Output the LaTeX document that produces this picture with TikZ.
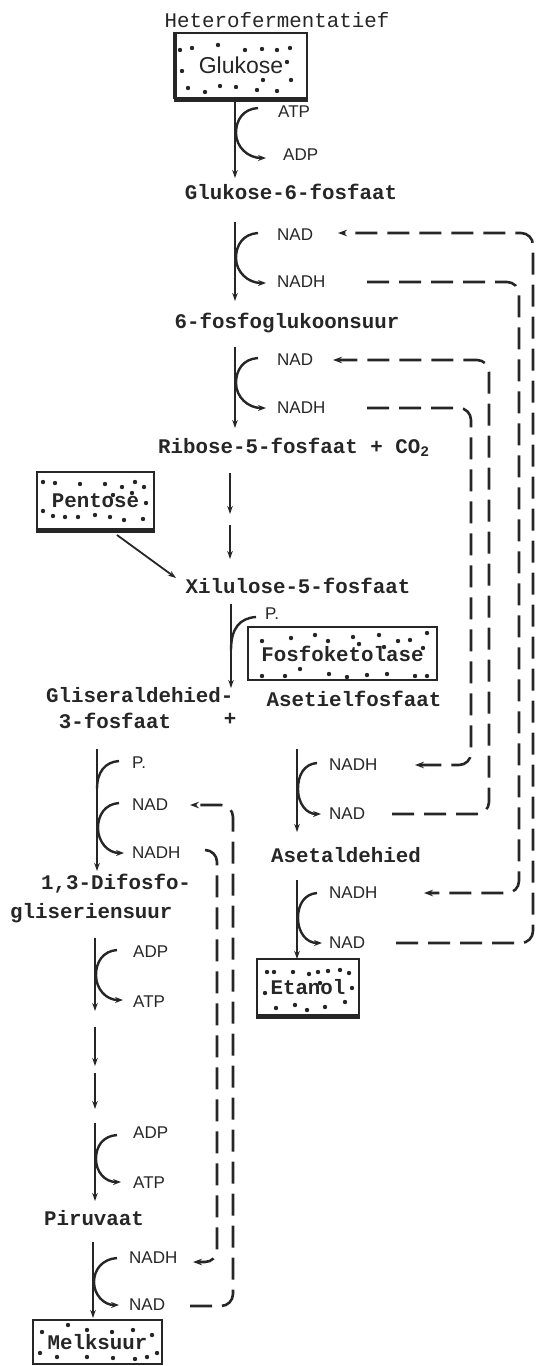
\documentclass[tikz,border=0pt]{standalone}
\usepackage{fontspec}
\usetikzlibrary{arrows.meta,calc}
\newfontfamily\twfont{Liberation Mono}
\newfontfamily\sansfont{Liberation Sans}
\definecolor{ink}{gray}{0.15}
\begin{document}
\begin{tikzpicture}[x=1pt,y=-1pt,
  lbl/.style={font=\twfont\bfseries\fontsize{20.8}{24}\selectfont, inner sep=0pt, text=ink},
  lbllight/.style={font=\twfont\fontsize{20.8}{24}\selectfont, inner sep=0pt, text=ink},
  sm/.style={font=\sansfont\fontsize{17}{19}\selectfont, inner sep=0pt, anchor=west, text=ink},
  arr/.style={draw=ink, line width=1.8pt, -{Stealth[length=8pt,width=5.5pt]}},
  cur/.style={draw=ink, line width=2.4pt, -{Stealth[length=8pt,width=6pt]}},
  brn/.style={draw=ink, line width=2.4pt},
  dsh/.style={draw=ink, line width=2.6pt, dash pattern=on 22pt off 10pt, rounded corners=12pt, -{Stealth[length=9pt,width=6.5pt]}},
  bx/.style={draw=ink, line width=2.2pt, inner sep=0pt, text=ink},
  shad/.style={draw=ink, line width=3.6pt},
  dotr/.style={fill=ink}
]
\useasboundingbox (0,0) rectangle (538,1366);

% ---------------- top ----------------
\node[lbllight] (het) at (277,20) {Heterofermentatief};
\node[bx, minimum width=132pt, minimum height=65pt, font=\sansfont\fontsize{23}{25}\selectfont] (glu) at (241,65.5) {Glukose};
\draw[shad] ([yshift=-1pt]glu.south west) -- ([yshift=-1pt]glu.south east);
\draw[shad] ([xshift=1pt]glu.north west) -- ([xshift=1pt]glu.south west);
\foreach \p in {(180,50),(192,48),(218,45),(245,50),(262,49),(277,50),(290,48),(182,71),(287,62),(291,80),(188,88),(205,92),(220,86),(236,87),(257,90),(263,80),(277,91)}
  \fill[dotr] \p circle (2.2pt);

\node[sm] (atp1) at (278,112) {ATP};
\node[sm] (adp1) at (283,155) {ADP};
\node[lbl] (g6p) at (291,192) {Glukose-6-fosfaat};
\coordinate (a1s) at (235,98); \coordinate (a1e) at (235,178);
\draw[arr] (a1s) -- (a1e);
\draw[cur] (258,108) .. controls (243,109) and (236,120) .. (236,133) .. controls (236,147) and (248,158) .. (266,158);

% ---------------- step 2 ----------------
\node[sm] (nad2) at (277,235) {NAD};
\node[sm] (nadh2) at (277,282) {NADH};
\node[lbl] (fgs) at (287,323) {6-fosfoglukoonsuur};
\coordinate (a2s) at (235,222); \coordinate (a2e) at (235,301);
\draw[arr] (a2s) -- (a2e);
\draw[cur] (258,233) .. controls (243,234) and (236,245) .. (236,258) .. controls (236,272) and (248,283) .. (266,283);

% ---------------- step 3 ----------------
\node[sm] (nad3) at (277,360) {NAD};
\node[sm] (nadh3) at (277,408) {NADH};
\node[lbl, anchor=west] (rib) at (158,447) {Ribose-5-fosfaat + CO\textsubscript{2}};
\coordinate (a3s) at (235,347); \coordinate (a3e) at (235,428);
\draw[arr] (a3s) -- (a3e);
\draw[cur] (258,358) .. controls (243,359) and (236,370) .. (236,383) .. controls (236,397) and (248,408) .. (266,408);

% ---------------- pentose / xilulose ----------------
\node[bx, minimum width=117pt, minimum height=57pt, font=\twfont\bfseries\fontsize{20.8}{24}\selectfont] (pen) at (95.5,500.5) {Pentose};
\draw[shad] ([yshift=-1.2pt]pen.south west) -- ([yshift=-1.2pt]pen.south east);
\foreach \p in {(43,482),(55,483),(80,484),(105,484),(122,487),(135,482),(144,487),(113,495),(132,493),(43,511),(53,516),(65,517),(78,517),(95,515),(110,517),(124,520),(143,519),(146,503)}
  \fill[dotr] \p circle (2.2pt);
\node[lbl] (xil) at (298,586) {Xilulose-5-fosfaat};
\coordinate (r1s) at (230,473); \coordinate (r1e) at (230,514);
\coordinate (r2s) at (230,525); \coordinate (r2e) at (230,559);
\draw[arr] (r1s) -- (r1e);
\draw[arr] (r2s) -- (r2e);
\coordinate (ps) at (117,535); \coordinate (pe) at (176,578);
\draw[arr] (ps) -- (pe);

% ---------------- fosfoketolase ----------------
\coordinate (x1s) at (231,604); \coordinate (x1e) at (231,688);
\draw[arr] (x1s) -- (x1e);
\draw[brn] (231,650) .. controls (231,628) and (240,618) .. (256,617);
\node[sm] (p1) at (265,614) {P.};
\node[bx, minimum width=189pt, minimum height=53pt, line width=2.6pt, font=\twfont\bfseries\fontsize{20.8}{24}\selectfont] (fk) at (342.5,653.5) {Fosfoketolase};
\foreach \p in {(262,641),(291,638),(315,635),(328,641),(353,637),(359,644),(379,635),(384,647),(398,641),(410,640),(423,648),(427,633),(262,676),(285,676),(300,669),(329,674),(347,677),(367,675),(387,674),(415,676),(427,676)}
  \fill[dotr] \p circle (2.2pt);

\node[lbl, anchor=west] (gli) at (46,695) {Gliseraldehied-};
\node[lbl] (gli2) at (115,721) {3-fosfaat};
\node[lbl] (plus) at (230,719) {+};
\node[lbl] (asf) at (354,699) {Asetielfosfaat};

% ---------------- left column ----------------
\node[sm] (pL) at (132,763) {P.};
\node[sm] (nadL) at (132,805) {NAD};
\node[sm] (nadhL) at (132,853) {NADH};
\coordinate (l1s) at (97,749); \coordinate (l1e) at (97,871);
\draw[arr] (l1s) -- (l1e);
\draw[brn] (97,789) .. controls (97,772) and (105,762) .. (119,761);
\draw[cur] (119,803) .. controls (105,804) and (98,815) .. (98,828) .. controls (98,842) and (108,853) .. (124,853);
\node[lbl, anchor=west] (dif1) at (41,884) {1,3-Difosfo-};
\node[lbl, anchor=west] (dif2) at (10,913) {gliseriensuur};

\node[sm] (adpL1) at (133,952) {ADP};
\node[sm] (atpL1) at (133,1002) {ATP};
\coordinate (l2s) at (95,938); \coordinate (l2e) at (95,1011);
\draw[arr] (l2s) -- (l2e);
\draw[cur] (117,950) .. controls (103,951) and (96,962) .. (96,975) .. controls (96,989) and (106,1000) .. (123,1000);
\coordinate (l3s) at (95,1027); \coordinate (l3e) at (95,1066);
\coordinate (l4s) at (95,1073); \coordinate (l4e) at (95,1109);
\draw[arr] (l3s) -- (l3e);
\draw[arr] (l4s) -- (l4e);

\node[sm] (adpL2) at (133,1133) {ADP};
\node[sm] (atpL2) at (133,1183) {ATP};
\coordinate (l5s) at (95,1123); \coordinate (l5e) at (95,1201);
\draw[arr] (l5s) -- (l5e);
\draw[cur] (117,1135) .. controls (103,1136) and (96,1146) .. (96,1159) .. controls (96,1172) and (105,1182) .. (121,1182);
\node[lbl] (pir) at (94,1218) {Piruvaat};

\node[sm] (nadhL2) at (129,1258) {NADH};
\node[sm] (nadL2) at (129,1305) {NAD};
\coordinate (l6s) at (93,1242); \coordinate (l6e) at (93,1318);
\draw[arr] (l6s) -- (l6e);
\draw[cur] (117,1258) .. controls (102,1259) and (94,1270) .. (94,1282) .. controls (94,1295) and (104,1305) .. (119,1305);

\node[bx, minimum width=129pt, minimum height=44pt, font=\twfont\bfseries\fontsize{20.8}{24}\selectfont] (mel) at (97.5,1342) {Melksuur};
\foreach \p in {(42,1332),(68,1325),(87,1330),(112,1332),(133,1330),(152,1335),(40,1353),(57,1357),(87,1357),(113,1358),(135,1359),(147,1357),(157,1353)}
  \fill[dotr] \p circle (2.2pt);

% ---------------- right column ----------------
\node[sm] (nadhR1) at (329,765) {NADH};
\node[sm] (nadR1) at (329,814) {NAD};
\coordinate (q1s) at (297,749); \coordinate (q1e) at (297,832);
\draw[arr] (q1s) -- (q1e);
\draw[cur] (317,763) .. controls (304,764) and (298,775) .. (298,789) .. controls (298,803) and (306,814) .. (321,814);
\node[lbl] (asa) at (346,855) {Asetaldehied};

\node[sm] (nadhR2) at (329,893) {NADH};
\node[sm] (nadR2) at (329,943) {NAD};
\coordinate (q2s) at (297,880); \coordinate (q2e) at (297,959);
\draw[arr] (q2s) -- (q2e);
\draw[cur] (317,893) .. controls (304,894) and (298,905) .. (298,918) .. controls (298,932) and (306,943) .. (322,943);

\node[bx, minimum width=102pt, minimum height=56pt, font=\twfont\bfseries\fontsize{20.8}{24}\selectfont] (eta) at (308,987) {Etanol};
\draw[shad] ([yshift=-1.2pt]eta.south west) -- ([yshift=-1.2pt]eta.south east);
\foreach \p in {(267,972),(274,972),(293,972),(309,974),(318,972),(328,971),(340,970),(349,973),(320,983),(265,993),(352,988),(276,1008),(295,1005),(307,1010),(325,1007),(345,1002)}
  \fill[dotr] \p circle (2.2pt);

% ---------------- dashed recycling loops ----------------
\coordinate (d1s) at (396,943); \coordinate (d1e) at (338,233);
\draw[dsh] (d1s) -- (533,943) -- (533,233) -- (d1e);
\coordinate (d2s) at (367,282); \coordinate (d2e) at (424,893);
\draw[dsh] (d2s) -- (519,282) -- (519,893) -- (d2e);
\coordinate (d3s) at (392,814); \coordinate (d3e) at (333,360);
\draw[dsh] (d3s) -- (489,814) -- (489,360) -- (d3e);
\coordinate (d4s) at (367,408); \coordinate (d4e) at (415,765);
\draw[dsh] (d4s) -- (471,408) -- (471,765) -- (d4e);
\coordinate (d5s) at (190,1306); \coordinate (d5e) at (190,805);
\draw[dsh] (d5s) -- (233,1306) -- (233,805) -- (d5e);
\coordinate (d6s) at (205,850); \coordinate (d6e) at (193,1262);
\draw[dsh] (d6s) -- (217,850) -- (217,1262) -- (d6e);
\end{tikzpicture}
\end{document}
